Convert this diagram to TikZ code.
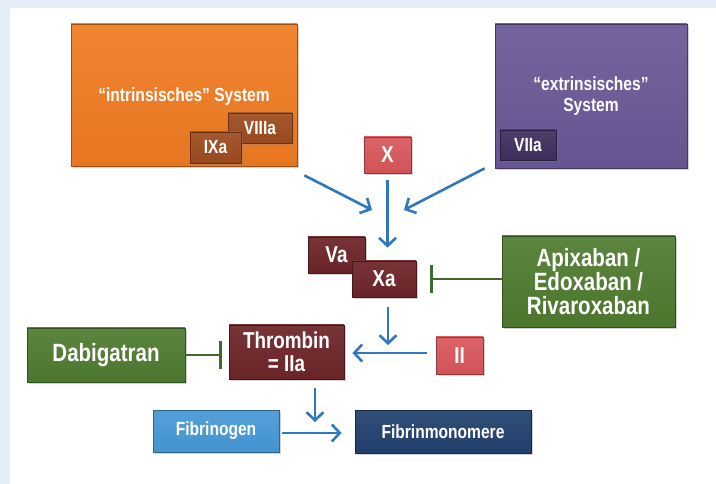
\documentclass[tikz,border=0pt]{standalone}
\usepackage{fontspec}
\setmainfont{Liberation Sans}[FakeStretch=0.82]
\usetikzlibrary{arrows.meta,shadows}

\definecolor{introrange}{HTML}{F07B22}
\definecolor{extrpurple}{HTML}{6A5896}
\definecolor{factbrown}{HTML}{9E4C1F}
\definecolor{factpurple}{HTML}{3F2F5F}
\definecolor{factred}{HTML}{D9575B}
\definecolor{factmaroon}{HTML}{6D2529}
\definecolor{druggreen}{HTML}{4F7B30}
\definecolor{fibblue}{HTML}{4799D7}
\definecolor{fibnavy}{HTML}{22416F}
\definecolor{arrowblue}{HTML}{2F78BE}
\definecolor{inhibgreen}{HTML}{3E6A2D}
\definecolor{framegray}{HTML}{E5EDF7}

\tikzset{mybox/.style={draw=#1!65!black,line width=0.8pt,top color=#1!93!white,bottom color=#1!96!black,
    text=white,align=center,inner sep=0pt,
    drop shadow={shadow xshift=1.5pt,shadow yshift=-2pt,opacity=0.35}}}
\tikzset{bigtext/.style={font=\bfseries\fontsize{25}{24}\selectfont}}
\tikzset{midtext/.style={font=\bfseries\fontsize{23}{23}\selectfont}}
\tikzset{smalltext/.style={font=\bfseries\fontsize{19}{21}\selectfont}}
\tikzset{myarrow/.style={arrowblue,line width=2.6pt,-{Straight Barb[length=8pt,width=17pt]}}}
\tikzset{myinhib/.style={inhibgreen,line width=2.6pt,-{Bar[width=28pt]}}}

\begin{document}
\begin{tikzpicture}[x=1pt,y=-1pt]
    \useasboundingbox (0,0) rectangle (716,484);
    \fill[framegray] (0,0) rectangle (716,484);
    \fill[white] (10,8) rectangle (716,484);

    % the two systems
    \node[mybox=introrange,smalltext,minimum width=226pt,minimum height=142pt,text depth=-6pt] (intr) at (184,95) {“intrinsisches” System};
    \node[mybox=extrpurple,smalltext,minimum width=192pt,minimum height=144pt] (extr) at (591,96) {“extrinsisches”\\System};
    \node[mybox=factbrown,smalltext,minimum width=64pt,minimum height=30pt] (viiia) at (260,128) {VIIIa};
    \node[mybox=factbrown,smalltext,minimum width=51pt,minimum height=31pt] (ixa) at (215.5,147.5) {IXa};
    \node[mybox=factpurple,smalltext,minimum width=56pt,minimum height=30pt] (viia) at (528,145) {VIIa};

    % factors
    \node[mybox=factred,midtext,minimum width=47pt,minimum height=36pt] (x) at (387.5,155) {X};
    \node[mybox=factmaroon,midtext,minimum width=57pt,minimum height=36pt] (va) at (336.5,255) {Va};
    \node[mybox=factmaroon,midtext,minimum width=64pt,minimum height=36pt] (xa) at (384,279) {Xa};
    \node[mybox=factmaroon,midtext,minimum width=115pt,minimum height=54pt] (thr) at (286.5,352) {Thrombin\\= IIa};
    \node[mybox=factred,midtext,minimum width=47pt,minimum height=37pt] (ii) at (459.5,355.5) {II};

    % inhibitors
    \node[mybox=druggreen,bigtext,minimum width=173pt,minimum height=91pt] (apix) at (588.5,281.5) {Apixaban /\\Edoxaban /\\Rivaroxaban};
    \node[mybox=druggreen,bigtext,minimum width=158pt,minimum height=54pt] (dabi) at (106,355) {Dabigatran};

    % fibrin
    \node[mybox=fibblue,smalltext,minimum width=126pt,minimum height=42pt] (fgen) at (216,431) {Fibrinogen};
    \node[mybox=fibnavy,smalltext,minimum width=176pt,minimum height=43pt] (fmono) at (443,431.5) {Fibrinmonomere};

    % arrows
    \coordinate (tointr) at (372,210);
    \coordinate (toextr) at (404,210);
    \coordinate (thrjoin) at (388,353);
    \coordinate (fibjoin) at (315,433);
    \draw[myarrow] ([shift={(7,9)}]intr.south east) -- (tointr);
    \draw[myarrow] ([xshift=-10pt]extr.south west) -- (toextr);
    \draw[myarrow,shorten <=7pt,shorten >=13pt] (x.south) -- (x.south |- xa.north);
    \draw[myarrow,shorten <=10pt,shorten >=8pt] (xa.south -| thrjoin) -- (thrjoin);
    \draw[myarrow,shorten <=9pt,shorten >=8pt] (ii.west |- thrjoin) -- (thr.east |- thrjoin);
    \draw[myarrow,shorten <=9pt,shorten >=11pt] (thr.south -| fibjoin) -- (fibjoin);
    \draw[myarrow,shorten <=3pt,shorten >=13pt] (fgen.east |- fibjoin) -- (fmono.west |- fibjoin);

    % inhibition
    \draw[myinhib,shorten >=14pt] (apix.west |- xa.east) -- (xa.east);
    \draw[myinhib,shorten >=7pt] (dabi.east) -- (thr.west |- dabi.east);
\end{tikzpicture}
\end{document}
